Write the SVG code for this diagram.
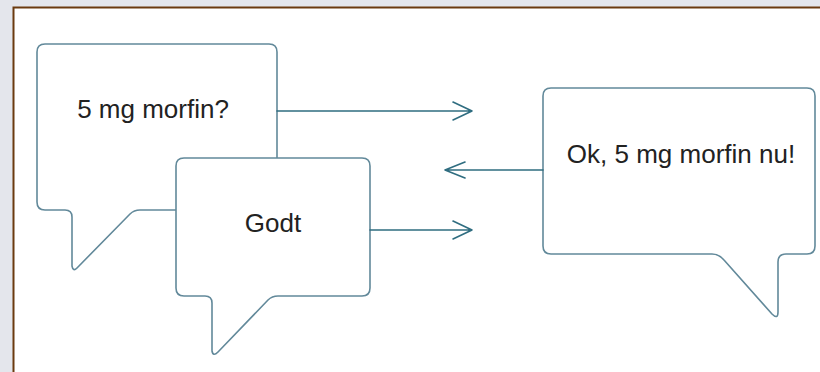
<svg xmlns="http://www.w3.org/2000/svg" width="820" height="372" viewBox="0 0 820 372">
<style>
.bubble{fill:#fff;stroke:#62899a;stroke-width:1.6;stroke-linejoin:round}
.lbl{font-family:"Liberation Sans",Arial,sans-serif;font-size:26px;fill:#222;text-anchor:middle}
.conn{fill:none;stroke:#2f6d80;stroke-width:1.6;stroke-linejoin:round;stroke-linecap:round}
</style>
<rect x="0" y="0" width="820" height="372" fill="#e4e6ec"/>
<rect x="13.5" y="7.5" width="900" height="500" fill="#fff" stroke="#6b3a0f" stroke-width="2"/>
<g id="bubble-question">
<path class="bubble" d="M45,44 H269 Q277,44 277,52 V202 Q277,210 269,210 H140 Q134,210 130,214 L77,268 Q73,272 72,266 V217 Q72,210 65,210 H45 Q37,210 37,202 V52 Q37,44 45,44 Z"/>
<text class="lbl" x="153" y="118">5 mg morfin?</text>
</g>
<g id="bubble-godt">
<path class="bubble" d="M184,158 H362 Q370,158 370,166 V288 Q370,296 362,296 H278 Q272,296 268,300 L218,352 Q213,357 212,351 V303 Q212,296 205,296 H184 Q176,296 176,288 V166 Q176,158 184,158 Z"/>
<text class="lbl" x="273" y="232">Godt</text>
</g>
<g id="bubble-ok">
<path class="bubble" d="M551,88 H807 Q815,88 815,96 V246 Q815,254 807,254 H786 Q778,254 778,262 V312 Q778,320 772,314 L724,260 Q719,254 712,254 H551 Q543,254 543,246 V96 Q543,88 551,88 Z"/>
<text class="lbl" x="681" y="163">Ok, 5 mg morfin nu!</text>
</g>
<g id="connectors">
<path class="conn" d="M277,111 H472 M453,102 L472,111 L453,120"/>
<path class="conn" d="M543,170 H445 M465,162 L445,170 L465,178"/>
<path class="conn" d="M370,230 H472 M453,221 L472,230 L453,239"/>
</g>
</svg>
